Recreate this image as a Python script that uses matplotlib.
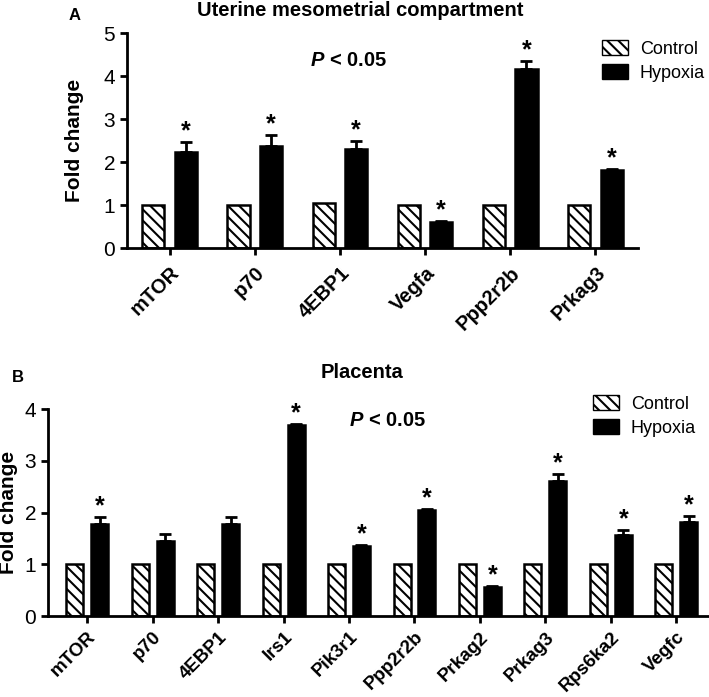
import numpy as np
import matplotlib
matplotlib.use("Agg")
import matplotlib.pyplot as plt
from matplotlib.patches import Patch

plt.rcParams['font.family'] = ['Liberation Sans', 'DejaVu Sans']
plt.rcParams['hatch.linewidth'] = 1.5
plt.rcParams['mathtext.fontset'] = 'custom'
plt.rcParams['mathtext.bfit'] = 'Liberation Sans:bold:italic'
plt.rcParams['mathtext.bf'] = 'Liberation Sans:bold'

# panel A - uterine mesometrial compartment
genes_a = ['mTOR', 'p70', '4EBP1', 'Vegfa', 'Ppp2r2b', 'Prkag3']
ctrl_a = [1.0, 1.0, 1.04, 1.0, 1.0, 1.0]
hyp_a = [2.24, 2.37, 2.30, 0.60, 4.16, 1.81]
hyp_a_sem = [0.22, 0.27, 0.20, 0.03, 0.19, 0.03]
sig_a = [True, True, True, True, True, True]

# panel B - placenta
genes_b = ['mTOR', 'p70', '4EBP1', 'Irs1', 'Pik3r1', 'Ppp2r2b', 'Prkag2',
           'Prkag3', 'Rps6ka2', 'Vegfc']
ctrl_b = [1.0] * 10
hyp_b = [1.79, 1.46, 1.79, 3.69, 1.36, 2.06, 0.57, 2.61, 1.57, 1.82]
hyp_b_sem = [0.13, 0.13, 0.13, 0.02, 0.02, 0.02, 0.01, 0.14, 0.09, 0.12]
sig_b = [True, False, False, True, True, True, True, True, True, True]

W, H = 709, 697
fig = plt.figure(figsize=(W / 100, H / 100), dpi=100)


def draw_panel(ax, genes, ctrl, hyp, sem, sig, ymax, xlim, ptext_xy, ylab_x,
               xlab_size, xpad):
    x = np.arange(len(genes))
    bw = 0.26
    off = 0.19
    ax.bar(x - off, ctrl, bw, color='white', edgecolor='black',
           linewidth=1.8, hatch='\\\\\\', zorder=2)
    ax.bar(x + off, hyp, bw, color='black', edgecolor='black',
           linewidth=1.8, zorder=2)
    ax.errorbar(x + off, hyp, yerr=[np.zeros(len(hyp)), sem], fmt='none',
                ecolor='black', elinewidth=2, capsize=4, capthick=2, zorder=3)
    for i in range(len(genes)):
        if sig[i]:
            ax.annotate('*', (x[i] + off, hyp[i] + sem[i]), xytext=(0, -1),
                        textcoords='offset points', ha='center', va='bottom',
                        fontsize=18, fontweight='bold')
    ax.set_xlim(xlim)
    ax.set_ylim(0, ymax)
    ax.set_yticks(range(ymax + 1))
    ax.set_xticks(x)
    ax.set_xticklabels(genes, rotation=45, ha='right', rotation_mode='anchor',
                       fontsize=xlab_size, fontweight='bold')
    ax.tick_params(axis='y', labelsize=15, width=2, length=5)
    ax.tick_params(axis='x', width=2, length=5, pad=xpad)
    for s in ['top', 'right']:
        ax.spines[s].set_visible(False)
    for s in ['left', 'bottom']:
        ax.spines[s].set_linewidth(2)
    ax.set_ylabel('Fold change', fontsize=15, fontweight='bold')
    ax.yaxis.set_label_coords(ylab_x, 0.5)
    ax.text(ptext_xy[0], ptext_xy[1], r'$\bfit{P}$ < 0.05', ha='center',
            va='center', fontsize=14.5, fontweight='bold')


axA = fig.add_axes([127 / W, 1 - 248 / H, (638 - 127) / W, (248 - 33.3) / H])
draw_panel(axA, genes_a, ctrl_a, hyp_a, hyp_a_sem, sig_a, 5, (-0.5, 5.5),
           (2.1, 4.37), (84 - 127) / 511, 14.5, 6)
axB = fig.add_axes([48 / W, 1 - 616 / H, (709 - 48) / W, (616 - 409.3) / H])
draw_panel(axB, genes_b, ctrl_b, hyp_b, hyp_b_sem, sig_b, 4, (-0.6, 9.5),
           (4.58, 3.79), (18 - 48) / 661, 13.5, 4)

handles = [Patch(facecolor='white', edgecolor='black', hatch='\\\\\\',
                 label='Control'),
           Patch(facecolor='black', edgecolor='black', label='Hypoxia')]
leg_kw = dict(loc='upper left', frameon=False, fontsize=13, handlelength=1.45,
              handleheight=0.9, borderpad=0, borderaxespad=0,
              labelspacing=0.35, handletextpad=0.65)
fig.legend(handles=handles, bbox_to_anchor=(602 / W, 1 - 40 / H), **leg_kw)
fig.legend(handles=handles, bbox_to_anchor=(593 / W, 1 - 395 / H), **leg_kw)

fig.text(360 / W, 1 - 11 / H, 'Uterine mesometrial compartment', ha='center',
         va='center', fontsize=14.5, fontweight='bold')
fig.text(362 / W, 1 - 373 / H, 'Placenta', ha='center', va='center',
         fontsize=14.5, fontweight='bold')
fig.text(75 / W, 1 - 15 / H, 'A', ha='center', va='center', fontsize=12,
         fontweight='bold')
fig.text(18 / W, 1 - 378 / H, 'B', ha='center', va='center', fontsize=12,
         fontweight='bold')

fig.savefig('out.png', dpi=100)
